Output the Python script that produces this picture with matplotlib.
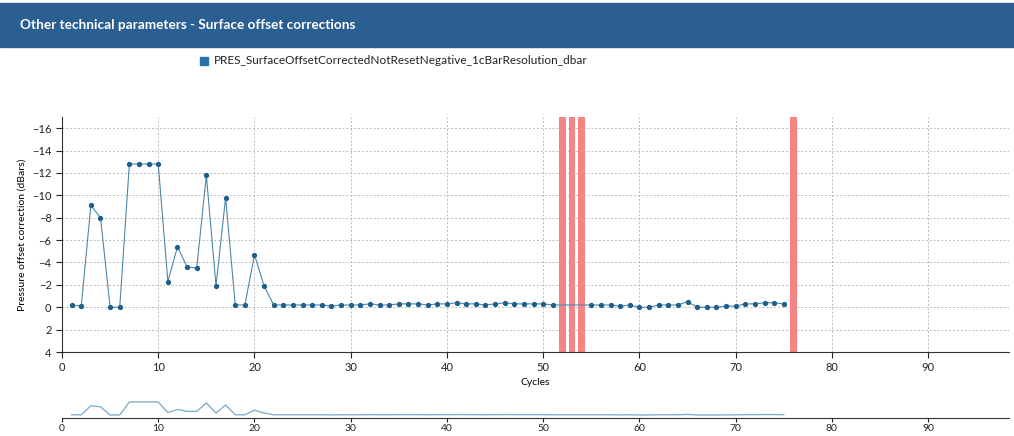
import numpy as np
import matplotlib.pyplot as plt

plt.rcParams['font.family'] = ['Lato', 'DejaVu Sans']

cycles = list(range(1, 52)) + list(range(55, 76))
offsets = [-0.2, -0.1, -9.1, -8.0, 0.0, 0.0, -12.8, -12.8, -12.8, -12.8,
           -2.3, -5.4, -3.6, -3.5, -11.8, -1.9, -9.8, -0.2, -0.2, -4.7,
           -1.9, -0.2, -0.2, -0.2, -0.2, -0.2, -0.2, -0.1, -0.2, -0.2,
           -0.2, -0.3, -0.2, -0.2, -0.3, -0.3, -0.3, -0.2, -0.3, -0.3,
           -0.4, -0.3, -0.3, -0.2, -0.3, -0.4, -0.3, -0.3, -0.3, -0.3,
           -0.2,
           -0.2, -0.2, -0.2, -0.1, -0.2, 0.0, 0.0, -0.2, -0.2, -0.2,
           -0.5, 0.0, 0.0, 0.0, -0.1, -0.1, -0.3, -0.3, -0.4, -0.4,
           -0.3]
missing_cycles = [52, 53, 54, 76]

series_name = 'PRES_SurfaceOffsetCorrectedNotResetNegative_1cBarResolution_dbar'
title = 'Other technical parameters - Surface offset corrections'

W, H = 1014, 436
fig = plt.figure(figsize=(W / 100, H / 100), dpi=100)

# header band
fig.patches.append(plt.Rectangle((0, 1 - 47 / H), 1, 44 / H, transform=fig.transFigure,
                                 color='#2b5f91', zorder=0))
fig.text(20 / W, 1 - 25 / H, title, color='white', fontsize=9.8, fontweight='bold',
         va='center', ha='left')

# legend
fig.patches.append(plt.Rectangle((200 / W, 1 - 65 / H), 8 / W, 8 / H, transform=fig.transFigure,
                                 color='#2474a6'))
fig.text(214 / W, 1 - 61 / H, series_name, fontsize=8.5, color='#222222', va='center')

xmax = 98.4
ylo, yhi = -17, 4

ax = fig.add_axes([62 / W, 1 - 352 / H, (1009 - 62) / W, (352 - 117) / H])
ax.bar(missing_cycles, height=yhi - ylo, bottom=ylo, width=0.7, color='#f58585', zorder=1)
ax.plot(cycles, offsets, color='#4a88ad', lw=0.8, marker='o', ms=2.8,
        mfc='#1f5f8b', mec='#1f5f8b', zorder=3)
ax.set_xlim(0, xmax)
ax.set_ylim(yhi, ylo)
ax.set_xticks(np.arange(0, 100, 10))
ax.set_yticks(np.arange(-16, 5, 2))
ax.grid(True, color='#bbbbbb', ls=(0, (2, 2)), lw=0.7)
ax.set_axisbelow(True)
for s in ['top', 'right']:
    ax.spines[s].set_visible(False)
for s in ['left', 'bottom']:
    ax.spines[s].set_color('#333333')
ax.tick_params(labelsize=8, colors='#222222', length=4)
ax.set_xlabel('Cycles', fontsize=7.5, labelpad=3)
ax.set_ylabel('Pressure offset correction (dBars)', fontsize=7.5, labelpad=4)

# navigator
nav = fig.add_axes([62 / W, 1 - 418 / H, (1009 - 62) / W, 20 / H])
nav.plot(cycles, offsets, color='#86b0c9', lw=1.0)
nav.set_xlim(0, xmax)
nav.set_ylim(3.0, -16.7)
nav.set_xticks(np.arange(0, 100, 10))
nav.set_yticks([])
for s in ['top', 'right', 'left']:
    nav.spines[s].set_visible(False)
nav.spines['bottom'].set_color('#333333')
nav.tick_params(labelsize=7.5, colors='#222222', length=3, pad=1)

fig.savefig('out.png', dpi=100)
